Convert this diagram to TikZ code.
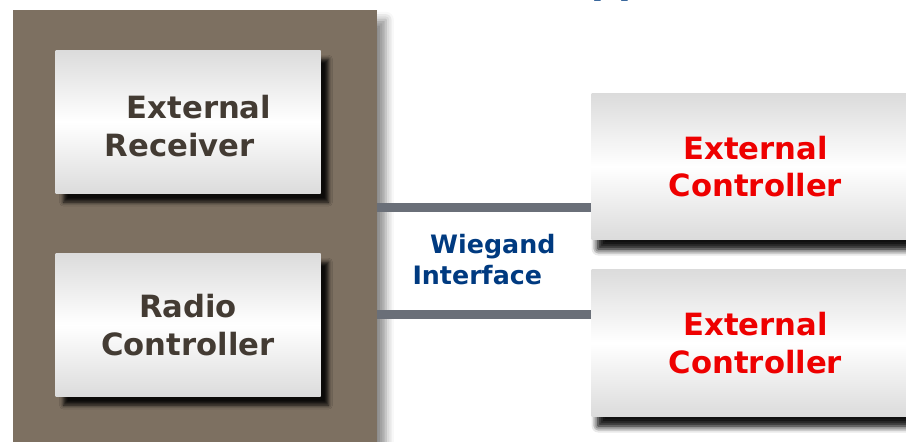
\documentclass[tikz,border=0pt]{standalone}
\usepackage{fontspec}
\setmainfont{DejaVu Sans}
\usetikzlibrary{shadows.blur}

\definecolor{unitbrown}{RGB}{125,112,97}
\definecolor{unitink}{RGB}{67,59,51}
\definecolor{ctrlred}{RGB}{238,0,0}
\definecolor{wiegblue}{RGB}{0,58,128}
\definecolor{wiregray}{RGB}{106,111,120}

\tikzset{every picture/.style={line width=0.75pt}}
\tikzset{
  panel/.style={fill=unitbrown, draw=none, inner sep=0pt,
    blur shadow={shadow xshift=7pt, shadow yshift=-7pt, shadow blur radius=6pt, shadow opacity=45}},
  modbox/.style={draw=none, top color=gray!28, bottom color=gray!28, middle color=white,
    inner sep=0pt, align=center, font=\fontsize{23}{29}\selectfont\bfseries,
    blur shadow={shadow xshift=6pt, shadow yshift=-6.5pt, shadow blur radius=3pt, shadow opacity=90}},
  ctrlbox/.style={modbox, text=ctrlred, font=\fontsize{23}{28}\selectfont\bfseries,
    blur shadow={shadow xshift=5pt, shadow yshift=-7pt, shadow blur radius=5pt, shadow opacity=75}},
  wire/.style={draw=wiregray, line width=6.75pt},
}

\begin{document}
\begin{tikzpicture}[x=0.75pt,y=0.75pt,yscale=-1,xscale=1]
\useasboundingbox (0,0) rectangle (906,442);
\clip (0,0) rectangle (906,442);

%Title descenders
\node [anchor=base west, inner sep=0pt, text=wiegblue, font=\fontsize{28}{34}\selectfont\bfseries] (title) at (591,-6.5) {pp};

%Reader unit
\node [panel, minimum width=273pt, minimum height=330pt, anchor=north west] (unit) at (12,10) {};

%Inner modules
\node [modbox, text=unitink, minimum width=198.75pt, minimum height=107.25pt, anchor=north west, align=left] (recv) at (55,50) {\rule{0pt}{23.5pt}\hspace*{0.72em}External\\Receiver};
\node [modbox, text=unitink, minimum width=198.75pt, minimum height=107.25pt, anchor=north west] (radio) at (55,253) {Radio\\Controller};

%Controllers
\node [ctrlbox, minimum width=246pt, minimum height=109.5pt, anchor=north west] (ctrlA) at (591,93) {External\\Controller};
\node [ctrlbox, minimum width=246pt, minimum height=110.25pt, anchor=north west] (ctrlB) at (591,269) {External\\Controller};

%Wiegand lines
\coordinate (tapA) at (0,207);
\coordinate (tapB) at (0,314);
\draw [wire] (unit.east |- tapA) -- (ctrlA.west |- tapA);
\draw [wire] (unit.east |- tapB) -- (ctrlB.west |- tapB);

% Text Node
\node [anchor=north west, inner sep=0pt, align=left, text=wiegblue, font=\fontsize{19}{23.25}\selectfont\bfseries] (wieg) at (412,234) {\hspace*{0.7em}Wiegand\\Interface};

\end{tikzpicture}
\end{document}
